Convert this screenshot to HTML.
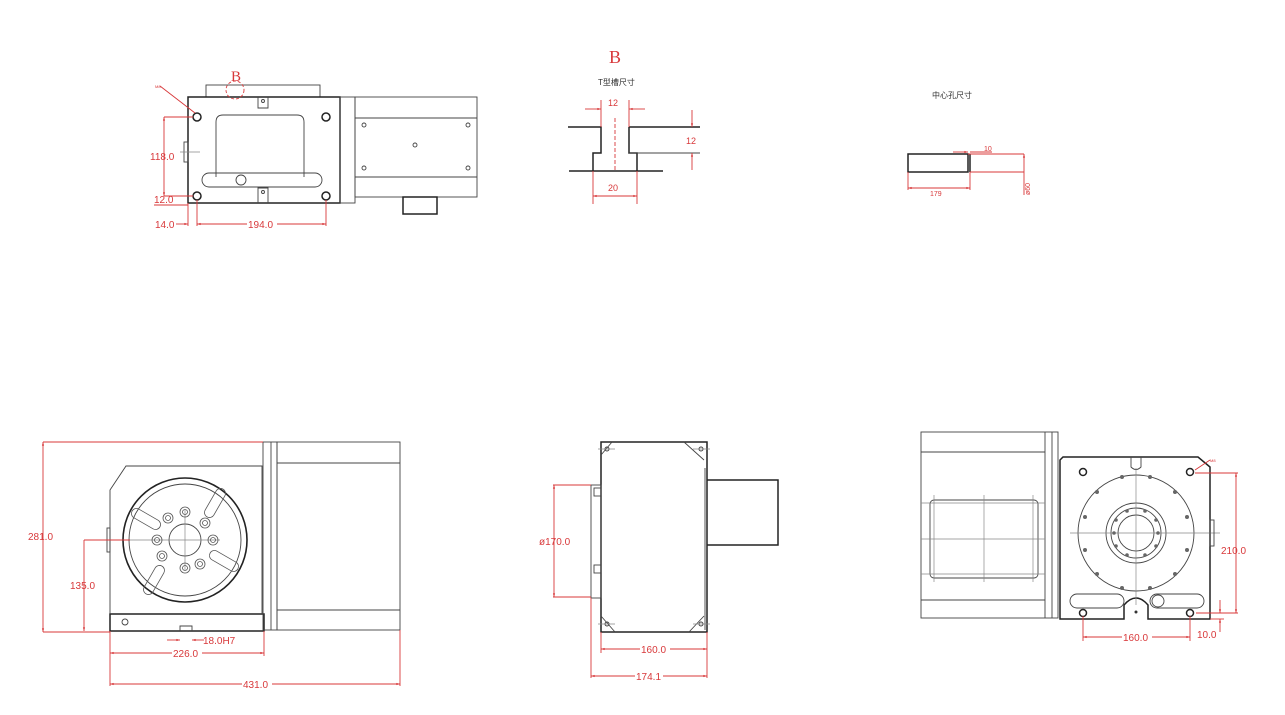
<!DOCTYPE html>
<html><head><meta charset="utf-8"><style>
html,body{margin:0;padding:0;background:#fff;}
svg{display:block}
text{font-family:"Liberation Sans","Noto Sans CJK SC",sans-serif;}
.r{stroke:#d8383a;fill:none;stroke-width:0.9}
.k{stroke:#444;fill:none;stroke-width:0.9}
.K{stroke:#222;fill:none;stroke-width:1.5}
.g{stroke:#888;fill:none;stroke-width:0.7}
.t{fill:#d8383a;font-size:10px}
</style></head><body>
<svg width="1285" height="715" viewBox="0 0 1285 715" xmlns="http://www.w3.org/2000/svg">
<defs><marker id="a" viewBox="0 0 10 10" refX="10" refY="5" markerWidth="6" markerHeight="4" orient="auto-start-reverse"><path d="M0,2 L10,5 L0,8z" fill="#d8383a"/></marker></defs>

<!-- TOP LEFT VIEW -->
<rect class="k" x="206" y="85" width="114" height="12"/>
<rect class="K" x="188" y="97" width="152" height="106"/>
<rect class="k" x="340" y="97" width="15" height="106"/>
<rect class="k" x="355" y="97" width="122" height="100"/>
<line class="k" x1="355" y1="118" x2="477" y2="118"/><line class="k" x1="355" y1="177" x2="477" y2="177"/>
<rect class="K" x="403" y="197" width="34" height="17"/>
<path class="k" d="M216,177 V122 q0,-7 7,-7 H297 q7,0 7,7 V177"/>
<path class="k" d="M258,97 V108 H268 V97"/><path class="k" d="M258,203 V188 H268 V203"/>
<rect class="k" x="202" y="173" width="120" height="14" rx="7"/>
<circle class="k" cx="241" cy="180" r="5"/>
<circle class="K" cx="197" cy="117" r="4"/><circle class="K" cx="326" cy="117" r="4"/>
<circle class="K" cx="197" cy="196" r="4"/><circle class="K" cx="326" cy="196" r="4"/>
<circle class="k" cx="263" cy="101" r="1.5"/><circle class="k" cx="263" cy="192" r="1.5"/>
<circle class="k" cx="364" cy="125" r="2"/><circle class="k" cx="468" cy="125" r="2"/><circle class="k" cx="415" cy="145" r="2"/><circle class="k" cx="364" cy="168" r="2"/><circle class="k" cx="468" cy="168" r="2"/>
<rect class="k" x="184" y="142" width="4" height="20"/><line class="g" x1="180" y1="152" x2="200" y2="152"/>
<circle class="r" cx="235" cy="90" r="9" stroke-dasharray="3,2"/>
<text x="231" y="81" style="font-size:15px;font-family:'Liberation Serif',serif;fill:#d8383a">B</text>
<line class="r" x1="160" y1="86" x2="195" y2="113"/><text x="155" y="88" style="font-size:4px;fill:#d8383a">M8</text>
<line class="r" x1="164" y1="117" x2="193" y2="117"/><line class="r" x1="164" y1="117" x2="164" y2="196" marker-start="url(#a)" marker-end="url(#a)"/>
<text class="t" x="150" y="160">118.0</text>
<line class="r" x1="164" y1="196" x2="193" y2="196"/><line class="r" x1="154" y1="205" x2="188" y2="205"/>
<text class="t" x="154" y="203">12.0</text>
<line class="r" x1="188" y1="203" x2="188" y2="226"/><line class="r" x1="197" y1="200" x2="197" y2="226"/><line class="r" x1="326" y1="200" x2="326" y2="226"/>
<line class="r" x1="197" y1="224" x2="326" y2="224" marker-start="url(#a)" marker-end="url(#a)"/>
<rect x="247" y="218" width="30" height="10" fill="#fff"/><text class="t" x="248" y="228">194.0</text>
<line class="r" x1="176" y1="224" x2="188" y2="224" marker-end="url(#a)"/><text class="t" x="155" y="228">14.0</text>

<!-- B detail -->
<text x="609" y="63" style="font-size:18px;font-family:'Liberation Serif',serif;fill:#d8383a">B</text>
<text x="598" y="85" style="font-size:8px;fill:#333">T型槽尺寸</text>
<path class="K" d="M568,127 H601 V153 H593 V171 M569,171 H663 M629,127 V153 H637 V171 M629,127 H700"/>
<line class="k" x1="629" y1="153" x2="700" y2="153"/>
<line class="r" x1="615" y1="118" x2="615" y2="172" stroke-dasharray="4,2"/>
<line class="r" x1="601" y1="100" x2="601" y2="127"/><line class="r" x1="629" y1="100" x2="629" y2="127"/>
<line class="r" x1="585" y1="109" x2="601" y2="109" marker-end="url(#a)"/><line class="r" x1="645" y1="109" x2="629" y2="109" marker-end="url(#a)"/>
<text class="t" x="608" y="106" style="font-size:9px">12</text>
<line class="r" x1="692" y1="110" x2="692" y2="127" marker-end="url(#a)"/><line class="r" x1="692" y1="170" x2="692" y2="153" marker-end="url(#a)"/>
<text class="t" x="686" y="144" style="font-size:9px">12</text>
<line class="r" x1="593" y1="171" x2="593" y2="204"/><line class="r" x1="637" y1="171" x2="637" y2="204"/>
<line class="r" x1="593" y1="196" x2="637" y2="196" marker-start="url(#a)" marker-end="url(#a)"/>
<text class="t" x="608" y="191" style="font-size:9px">20</text>

<!-- center hole -->
<text x="932" y="98" style="font-size:8px;fill:#333">中心孔尺寸</text>
<rect class="K" x="908" y="154" width="60" height="18"/><line class="K" x1="970" y1="154" x2="970" y2="172"/>
<line class="r" x1="968" y1="154" x2="1024" y2="154"/><line class="r" x1="970" y1="172" x2="1024" y2="172"/>
<line class="r" x1="1024" y1="154" x2="1024" y2="195" marker-start="url(#a)"/>
<line class="r" x1="953" y1="152" x2="968" y2="152" marker-end="url(#a)"/><line class="r" x1="970" y1="152" x2="992" y2="152"/>
<text x="984" y="151" style="font-size:7px;fill:#d8383a">10</text>
<line class="r" x1="908" y1="172" x2="908" y2="190"/><line class="r" x1="970" y1="172" x2="970" y2="190"/>
<line class="r" x1="908" y1="188" x2="970" y2="188" marker-start="url(#a)" marker-end="url(#a)"/>
<text x="930" y="196" style="font-size:7px;fill:#d8383a">179</text>
<text x="1030" y="195" style="font-size:7px;fill:#d8383a" transform="rotate(-90 1030 195)">ø60</text>

<!-- BOTTOM LEFT VIEW -->
<path class="K" d="M110,631 H264 V614 H110 Z"/>
<path class="k" d="M110,614 V490 L126,466 H262 V614"/>
<rect class="k" x="263" y="442" width="14" height="188"/><line class="k" x1="271" y1="442" x2="271" y2="630"/>
<rect class="k" x="277" y="442" width="123" height="188"/>
<line class="k" x1="277" y1="463" x2="400" y2="463"/><line class="k" x1="277" y1="610" x2="400" y2="610"/>
<rect class="k" x="107" y="528" width="3" height="24"/>
<circle cx="185" cy="540" r="62" fill="none" stroke="#222" stroke-width="1.6"/>
<circle class="k" cx="185" cy="540" r="56"/>
<circle class="k" cx="185" cy="540" r="16"/>
<line class="g" x1="84" y1="540" x2="220" y2="540"/><line class="g" x1="185" y1="510" x2="185" y2="570"/>
<g fill="none" stroke="#555" stroke-width="0.8">
<circle cx="185" cy="512" r="5"/><circle cx="205" cy="523" r="5"/><circle cx="213" cy="540" r="5"/><circle cx="200" cy="564" r="5"/><circle cx="185" cy="568" r="5"/><circle cx="162" cy="556" r="5"/><circle cx="157" cy="540" r="5"/><circle cx="168" cy="518" r="5"/>
<circle cx="185" cy="512" r="2.5"/><circle cx="205" cy="523" r="2.5"/><circle cx="213" cy="540" r="2.5"/><circle cx="200" cy="564" r="2.5"/><circle cx="185" cy="568" r="2.5"/><circle cx="162" cy="556" r="2.5"/><circle cx="157" cy="540" r="2.5"/><circle cx="168" cy="518" r="2.5"/>
<rect x="130" y="514" width="32" height="10" rx="5" transform="rotate(30 146 519)"/>
<rect x="199" y="498" width="32" height="10" rx="5" transform="rotate(-60 215 503)"/>
<rect x="208" y="556" width="32" height="10" rx="5" transform="rotate(30 224 561)"/>
<rect x="138" y="575" width="32" height="10" rx="5" transform="rotate(-60 154 580)"/>
</g>
<circle class="k" cx="125" cy="622" r="3"/>
<path class="k" d="M180,631 V626 H192 V631"/>
<line class="r" x1="43" y1="442" x2="263" y2="442"/><line class="r" x1="43" y1="442" x2="43" y2="632" marker-start="url(#a)" marker-end="url(#a)"/><line class="r" x1="43" y1="632" x2="110" y2="632"/>
<text class="t" x="28" y="540">281.0</text>
<line class="r" x1="84" y1="540" x2="130" y2="540"/><line class="r" x1="84" y1="540" x2="84" y2="631" marker-end="url(#a)"/>
<text class="t" x="70" y="589">135.0</text>
<line class="r" x1="167" y1="640" x2="180" y2="640" marker-end="url(#a)"/><line class="r" x1="204" y1="640" x2="192" y2="640" marker-end="url(#a)"/>
<text class="t" x="203" y="644">18.0H7</text>
<line class="r" x1="110" y1="631" x2="110" y2="686"/><line class="r" x1="264" y1="631" x2="264" y2="656"/><line class="r" x1="400" y1="630" x2="400" y2="686"/>
<line class="r" x1="110" y1="653" x2="264" y2="653" marker-start="url(#a)" marker-end="url(#a)"/>
<rect x="172" y="648" width="30" height="10" fill="#fff"/><text class="t" x="173" y="657">226.0</text>
<line class="r" x1="110" y1="684" x2="400" y2="684" marker-start="url(#a)" marker-end="url(#a)"/>
<rect x="242" y="679" width="30" height="10" fill="#fff"/><text class="t" x="243" y="688">431.0</text>

<!-- BOTTOM MIDDLE -->
<rect class="K" x="601" y="442" width="106" height="190"/>
<line class="k" x1="705" y1="468" x2="705" y2="630"/>
<path class="k" d="M612,442 L601,455 M684,442 L704,460 M601,616 L615,632 M704,616 L689,632"/>
<g fill="none" stroke="#444"><circle cx="607" cy="449" r="2"/><circle cx="701" cy="449" r="2"/><circle cx="607" cy="624" r="2"/><circle cx="701" cy="624" r="2"/></g>
<line class="g" x1="598" y1="449" x2="615" y2="449"/><line class="g" x1="693" y1="449" x2="710" y2="449"/><line class="g" x1="598" y1="624" x2="615" y2="624"/><line class="g" x1="693" y1="624" x2="710" y2="624"/>
<rect class="k" x="591" y="485" width="10" height="113"/>
<rect class="k" x="594" y="488" width="7" height="8"/><rect class="k" x="594" y="565" width="7" height="8"/>
<path class="K" d="M707,480 H778 V545 H707"/>
<line class="r" x1="553" y1="485" x2="591" y2="485"/><line class="r" x1="553" y1="597" x2="591" y2="597"/>
<line class="r" x1="554" y1="485" x2="554" y2="597" marker-start="url(#a)" marker-end="url(#a)"/>
<text class="t" x="539" y="545">ø170.0</text>
<line class="r" x1="601" y1="632" x2="601" y2="653"/><line class="r" x1="707" y1="632" x2="707" y2="678"/><line class="r" x1="591" y1="598" x2="591" y2="678"/>
<line class="r" x1="601" y1="649" x2="707" y2="649" marker-start="url(#a)" marker-end="url(#a)"/>
<rect x="640" y="644" width="30" height="10" fill="#fff"/><text class="t" x="641" y="653">160.0</text>
<line class="r" x1="591" y1="676" x2="707" y2="676" marker-start="url(#a)" marker-end="url(#a)"/>
<rect x="635" y="671" width="28" height="10" fill="#fff"/><text class="t" x="636" y="680">174.1</text>

<!-- BOTTOM RIGHT -->
<rect class="k" x="921" y="432" width="137" height="186"/>
<line class="k" x1="921" y1="452" x2="1045" y2="452"/><line class="k" x1="921" y1="600" x2="1045" y2="600"/>
<line class="k" x1="1045" y1="432" x2="1045" y2="618"/><line class="k" x1="1052" y1="432" x2="1052" y2="618"/>
<rect class="k" x="930" y="500" width="108" height="78" rx="4"/>
<g class="g"><line x1="921" y1="503" x2="1045" y2="503"/><line x1="921" y1="539" x2="1045" y2="539"/><line x1="921" y1="574" x2="1045" y2="574"/><line x1="934" y1="495" x2="934" y2="582"/><line x1="984" y1="495" x2="984" y2="582"/><line x1="1033" y1="495" x2="1033" y2="582"/></g>
<path class="K" d="M1060,619 V460 L1063,457 H1198 L1210,467 V619 H1148 V605 q-12,-14 -24,0 V619 Z"/>
<path class="k" d="M1131,457 V467 q5,5 10,0 V457"/>
<circle class="k" cx="1136" cy="533" r="58"/>
<circle class="k" cx="1136" cy="533" r="30"/><circle class="k" cx="1136" cy="533" r="25"/><circle class="k" cx="1136" cy="533" r="18"/>
<g class="g"><line x1="1070" y1="533" x2="1220" y2="533"/><line x1="1136" y1="468" x2="1136" y2="605"/></g>
<g fill="#666"><circle cx="1122" cy="477" r="2"/><circle cx="1150" cy="477" r="2"/><circle cx="1097" cy="492" r="2"/><circle cx="1175" cy="492" r="2"/><circle cx="1085" cy="517" r="2"/><circle cx="1187" cy="517" r="2"/><circle cx="1085" cy="550" r="2"/><circle cx="1187" cy="550" r="2"/><circle cx="1097" cy="574" r="2"/><circle cx="1175" cy="574" r="2"/><circle cx="1122" cy="588" r="2"/><circle cx="1150" cy="588" r="2"/>
<circle cx="1127" cy="511" r="1.8"/><circle cx="1145" cy="511" r="1.8"/><circle cx="1116" cy="520" r="1.8"/><circle cx="1156" cy="520" r="1.8"/><circle cx="1114" cy="533" r="1.8"/><circle cx="1158" cy="533" r="1.8"/><circle cx="1116" cy="546" r="1.8"/><circle cx="1156" cy="546" r="1.8"/><circle cx="1127" cy="555" r="1.8"/><circle cx="1145" cy="555" r="1.8"/></g>
<circle class="K" cx="1083" cy="472" r="3.5"/><circle class="K" cx="1190" cy="472" r="3.5"/><circle class="K" cx="1083" cy="613" r="3.5"/><circle class="K" cx="1190" cy="613" r="3.5"/>
<rect class="k" x="1070" y="594" width="54" height="14" rx="7"/><rect class="k" x="1150" y="594" width="54" height="14" rx="7"/>
<circle class="k" cx="1158" cy="601" r="6"/><circle fill="#333" cx="1136" cy="612" r="1.5"/>
<rect class="k" x="1210" y="520" width="4" height="26"/>
<line class="r" x1="1195" y1="470" x2="1210" y2="460"/><text x="1210" y="462" style="font-size:4px;fill:#d8383a">M8</text>
<line class="r" x1="1195" y1="473" x2="1238" y2="473"/><line class="r" x1="1196" y1="613" x2="1238" y2="613"/>
<line class="r" x1="1236" y1="473" x2="1236" y2="613" marker-start="url(#a)" marker-end="url(#a)"/>
<text class="t" x="1221" y="554">210.0</text>
<line class="r" x1="1220" y1="600" x2="1220" y2="613" marker-end="url(#a)"/><line class="r" x1="1220" y1="632" x2="1220" y2="619" marker-end="url(#a)"/>
<line class="r" x1="1210" y1="619" x2="1224" y2="619"/>
<text class="t" x="1197" y="638">10.0</text>
<line class="r" x1="1083" y1="616" x2="1083" y2="641"/><line class="r" x1="1190" y1="616" x2="1190" y2="641"/>
<line class="r" x1="1083" y1="637" x2="1190" y2="637" marker-start="url(#a)" marker-end="url(#a)"/>
<rect x="1122" y="632" width="30" height="10" fill="#fff"/><text class="t" x="1123" y="641">160.0</text>
</svg>
</body></html>
